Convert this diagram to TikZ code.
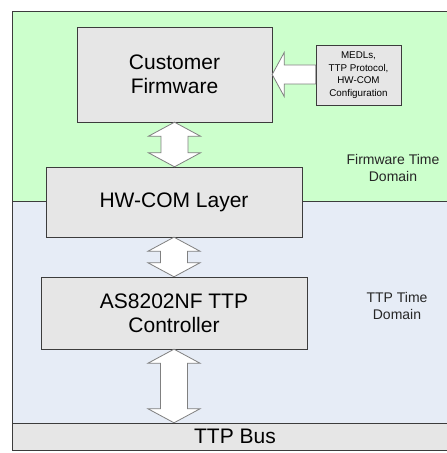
\documentclass[tikz,border=0pt]{standalone}
\usepackage{fontspec}
\setmainfont{Liberation Sans}
\usetikzlibrary{calc}

\definecolor{fwgreen}{HTML}{CCFFCC}
\definecolor{ttpblue}{HTML}{E6ECF6}
\definecolor{boxgray}{HTML}{E6E6E6}
\definecolor{edgegray}{HTML}{3C3C3C}

% fat double arrow from the bottom of #1 to the top of #2
\newcommand{\fatlink}[2]{%
  \draw[fatarrow] let \p1=(#1.south), \p2=(#2.north) in
    (\x1,\y1) -- (\x1+26pt,\y1-14pt) -- (\x1+13.5pt,\y1-14pt)
    -- (\x1+13.5pt,\y2+14pt) -- (\x1+26pt,\y2+14pt) -- (\x1,\y2)
    -- (\x1-26pt,\y2+14pt) -- (\x1-13.5pt,\y2+14pt)
    -- (\x1-13.5pt,\y1-14pt) -- (\x1-26pt,\y1-14pt) -- cycle;}

\begin{document}
\begin{tikzpicture}[x=1pt,y=1pt,
  block/.style={draw=edgegray, fill=boxgray, align=center, inner sep=0pt,
    text=black, font=\fontsize{21}{24}\selectfont},
  smallblock/.style={block, font=\fontsize{9.8}{12.7}\selectfont},
  fatarrow/.style={draw=gray, fill=white, line width=0.8pt},
  domainlabel/.style={align=center, text=black!85, font=\fontsize{14}{17}\selectfont}]

\clip (0,0) rectangle (447,453);

% time domains
\draw[edgegray, fill=fwgreen] (12,252) rectangle (460,442);
\draw[edgegray, fill=ttpblue] (12,30) rectangle (460,252);
\node[domainlabel] (fwdom) at (393,285.5) {Firmware Time\\Domain};
\node[domainlabel] (ttpdom) at (397,147) {TTP Time\\Domain};

% blocks
\node[block, minimum width=195, minimum height=95] (cf) at (174.5,378.5) {Customer\\Firmware};
\node[smallblock, minimum width=85, minimum height=60] (cfg) at (358.5,378) {MEDLs,\\TTP Protocol,\\HW-COM\\Configuration};
\node[block, minimum width=256, minimum height=70] (hw) at (174,251) {HW-COM Layer};
\node[block, minimum width=266, minimum height=72] (as) at (174,140) {AS8202NF TTP\\Controller};
\node[block, minimum width=446, minimum height=27] (bus) at (235,16.5) {TTP Bus};

% arrows
\draw[fatarrow] let \p1=(cf.east), \p2=(cfg.west) in
  (\x1,\y1) -- (\x1+12pt,\y1+22pt) -- (\x1+12pt,\y1+9.5pt) -- (\x2,\y1+9.5pt)
  -- (\x2,\y1-9.5pt) -- (\x1+12pt,\y1-9.5pt) -- (\x1+12pt,\y1-22pt) -- cycle;
\fatlink{cf}{hw}
\fatlink{hw}{as}
\fatlink{as}{bus}

\end{tikzpicture}
\end{document}
